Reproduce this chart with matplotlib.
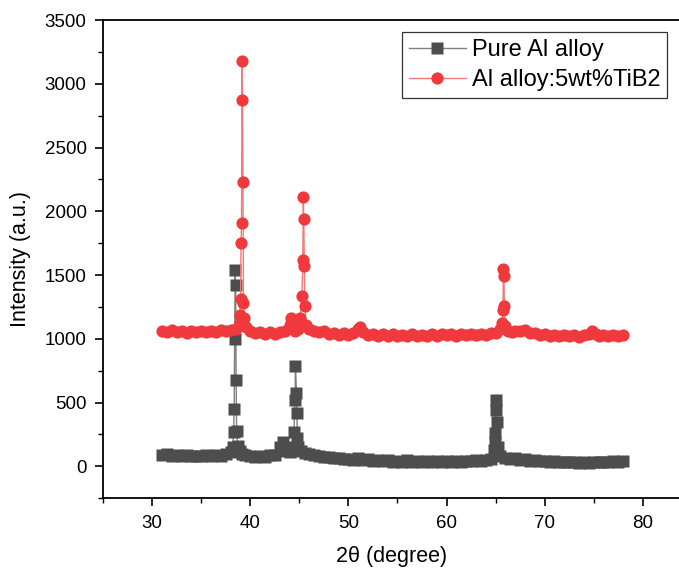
import matplotlib
matplotlib.use("Agg")
import matplotlib.pyplot as plt
from matplotlib.ticker import MultipleLocator

plt.rcParams['font.family'] = ['Liberation Sans', 'DejaVu Sans']

# Pure Al alloy
pure_x = [31.0, 31.5, 32.0, 32.5, 33.0, 33.5, 34.0, 34.5, 35.0, 35.5, 36.0, 36.5, 37.0, 37.5,
          38.0, 38.2, 38.3, 38.35, 38.4, 38.45, 38.5, 38.55, 38.6, 38.7, 38.9, 39.2, 39.5,
          40.0, 40.5, 41.0, 41.5, 42.0, 42.5, 43.0, 43.3, 43.6, 44.0, 44.3, 44.45, 44.55,
          44.6, 44.7, 44.75, 44.8, 44.9, 45.2, 45.6, 46.0, 46.5, 47.0, 47.5, 48.0, 48.5,
          49.0, 49.5, 50.0, 50.5, 51.0, 51.5, 52.0, 52.5, 53.0, 53.5, 54.0, 54.5, 55.0,
          55.5, 56.0, 56.5, 57.0, 57.5, 58.0, 58.5, 59.0, 59.5, 60.0, 60.5, 61.0, 61.5,
          62.0, 62.5, 63.0, 63.5, 64.0, 64.5, 64.8, 64.9, 64.95, 65.0, 65.05, 65.1, 65.2,
          65.5, 66.0, 66.5, 67.0, 67.5, 68.0, 68.5, 69.0, 69.5, 70.0, 70.5, 71.0, 71.5,
          72.0, 72.5, 73.0, 73.5, 74.0, 74.5, 75.0, 75.5, 76.0, 76.5, 77.0, 77.5, 78.0]
pure_y = [88, 96, 84, 90, 80, 86, 78, 85, 80, 88, 78, 86, 84, 95,
          110, 150, 270, 450, 1000, 1540, 1420, 680, 280, 160, 120, 100, 92,
          80, 72, 82, 76, 88, 90, 150, 190, 120, 110, 150, 270, 520,
          790, 576, 418, 220, 150, 120, 105, 95, 86, 82, 70, 72, 62,
          66, 56, 60, 52, 62, 48, 54, 44, 50, 42, 48, 38, 44,
          36, 46, 38, 42, 34, 44, 36, 40, 34, 42, 38, 42, 36,
          44, 40, 46, 42, 50, 60, 126, 190, 260, 442, 520, 350, 150,
          80, 62, 56, 64, 52, 54, 44, 48, 40, 44, 34, 40, 32,
          38, 32, 38, 30, 34, 28, 36, 32, 38, 32, 40, 34, 40]

# Al alloy:5wt%TiB2
tib_x = [31.0, 31.5, 32.0, 32.5, 33.0, 33.5, 34.0, 34.5, 35.0, 35.5, 36.0, 36.5, 37.0, 37.5,
         38.0, 38.5, 38.8, 38.95, 39.0, 39.05, 39.1, 39.15, 39.2, 39.25, 39.3, 39.4, 39.6,
         40.0, 40.5, 41.0, 41.5, 42.0, 42.5, 43.0, 43.5, 44.0, 44.1, 44.3, 44.6, 44.9,
         45.1, 45.25, 45.35, 45.4, 45.45, 45.5, 45.55, 45.7, 46.0, 46.5, 47.0, 47.5, 48.0,
         48.5, 49.0, 49.5, 50.0, 50.5, 51.0, 51.2, 51.5, 52.0, 52.5, 53.0, 53.5, 54.0,
         54.5, 55.0, 55.5, 56.0, 56.5, 57.0, 57.5, 58.0, 58.5, 59.0, 59.5, 60.0, 60.5,
         61.0, 61.5, 62.0, 62.5, 63.0, 63.5, 64.0, 64.5, 65.0, 65.5, 65.7, 65.75, 65.8,
         65.85, 65.9, 66.0, 66.3, 66.7, 67.0, 67.5, 68.0, 68.5, 69.0, 69.5, 70.0, 70.5,
         71.0, 71.5, 72.0, 72.5, 73.0, 73.5, 74.0, 74.5, 74.8, 75.2, 75.5, 76.0, 76.5,
         77.0, 77.5, 78.0]
tib_y = [1062, 1052, 1066, 1050, 1060, 1048, 1058, 1052, 1062, 1055, 1064, 1056, 1066, 1060,
         1072, 1075, 1110, 1190, 1310, 1750, 1910, 3180, 2870, 2230, 1280, 1160, 1090,
         1060, 1046, 1054, 1040, 1050, 1040, 1052, 1060, 1110, 1160, 1100, 1065, 1080,
         1167, 1335, 1620, 2110, 1940, 1575, 1254, 1110, 1080, 1065, 1050, 1058, 1040,
         1048, 1034, 1044, 1034, 1048, 1080, 1095, 1050, 1030, 1040, 1026, 1036, 1024,
         1036, 1024, 1034, 1022, 1036, 1024, 1034, 1026, 1038, 1026, 1036, 1028, 1040,
         1026, 1036, 1028, 1040, 1028, 1040, 1034, 1044, 1045, 1080, 1128, 1225, 1551,
         1493, 1256, 1100, 1065, 1052, 1062, 1060, 1066, 1046, 1046, 1032, 1040, 1026,
         1034, 1022, 1032, 1020, 1030, 1018, 1030, 1040, 1060, 1040, 1026, 1034, 1024,
         1034, 1026, 1034]

labels = ["Pure Al alloy", "Al alloy:5wt%TiB2"]
x_ticks = [30, 40, 50, 60, 70, 80]
y_ticks = [0, 500, 1000, 1500, 2000, 2500, 3000, 3500]

fig = plt.figure(figsize=(6.79, 5.74), dpi=100)
ax = fig.add_axes([0.152, 0.132, 0.848, 0.833])

ax.plot(pure_x, pure_y, color='#7f7f7f', lw=1.0, zorder=2)
ax.plot(pure_x, pure_y, ls='none', marker='s', ms=8.4, color='#4d4d4d', mec='none', zorder=3)
ax.plot(tib_x, tib_y, color='#f47a7a', lw=1.0, zorder=4)
ax.plot(tib_x, tib_y, ls='none', marker='o', ms=8.8, color='#f0393c', mec='none', zorder=5)

h1, = ax.plot([], [], color='#7f7f7f', lw=1.0, marker='s', ms=8.4, mfc='#4d4d4d', mec='none')
h2, = ax.plot([], [], color='#f47a7a', lw=1.0, marker='o', ms=8.8, mfc='#f0393c', mec='none')
leg = ax.legend([h1, h2], labels, loc='upper right', bbox_to_anchor=(0.988, 0.985),
                fontsize=17, frameon=True, fancybox=False, framealpha=1,
                edgecolor='#333333', handlelength=2.4, handletextpad=0.25,
                borderpad=0.3, labelspacing=0.35, borderaxespad=0.2)
leg.get_frame().set_linewidth(0.9)

ax.set_xlim(25, 83.7)
ax.set_ylim(-250, 3500)
ax.set_xticks(x_ticks)
ax.set_yticks(y_ticks)
ax.xaxis.set_minor_locator(MultipleLocator(5))
ax.yaxis.set_minor_locator(MultipleLocator(250))
ax.tick_params(which='major', direction='out', length=6, width=1.2, labelsize=13.5,
               colors='black', pad=6)
ax.tick_params(which='minor', direction='out', length=3.5, width=1.0)
for s in ['left', 'bottom', 'top']:
    ax.spines[s].set_linewidth(1.3)
ax.spines['right'].set_visible(False)

ax.set_xlabel("2θ (degree)", fontsize=15.5, labelpad=10)
ax.set_ylabel("Intensity (a.u.)", fontsize=15.5, labelpad=10)

fig.savefig("out.png", dpi=100)
